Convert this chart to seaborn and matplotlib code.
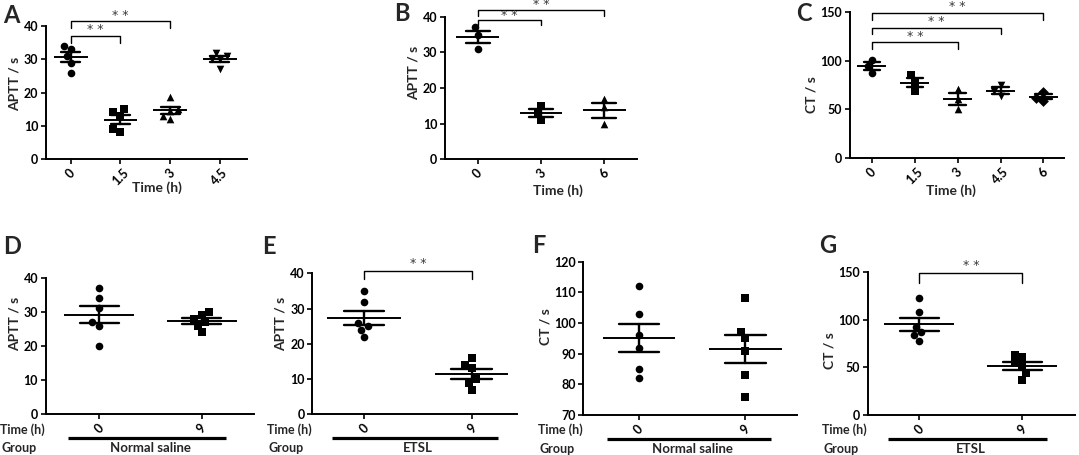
import numpy as np
import pandas as pd
import seaborn as sns
import matplotlib
matplotlib.use("Agg")
import matplotlib.pyplot as plt
from matplotlib import transforms as mtransforms

sns.set_style("white")
plt.rcParams['font.family'] = ['Lato', 'DejaVu Sans']
plt.rcParams['font.weight'] = 'bold'
plt.rcParams['axes.labelweight'] = 'bold'

# ---- data ----
a_times = ["0", "1.5", "3", "4.5"]
a_aptt = [[26, 29, 31, 33, 34], [8, 9, 13, 14, 15], [12, 13, 14.5, 15, 18.5], [27, 30, 30, 31, 32]]

b_times = ["0", "3", "6"]
b_aptt = [[31, 35, 37], [11, 13, 15], [9.8, 14.6, 17]]

c_times = ["0", "1.5", "3", "4.5", "6"]
c_ct = [[87, 94, 101], [69, 78, 85], [50, 61, 71], [64, 69, 75], [59, 62, 68]]

dg_times = ["0", "9"]
d_aptt = [[20, 26, 27, 31, 34, 37], [24, 26, 27, 28, 29, 30]]
e_aptt = [[22, 24, 25, 26, 32, 35], [7, 9, 10, 13, 14, 16]]
f_ct = [[82, 85, 92, 96, 103, 112], [76, 83, 91, 95, 97, 108]]
g_ct = [[78, 84, 87, 93, 108, 123], [37, 44, 51, 55, 61, 63]]

W, H = 1079, 455
fig = plt.figure(figsize=(W / 100, H / 100), dpi=100)

TICK_FS = 9
LABEL_FS = 10
BOTTOM_FS = 9
LETTER_FS = 17


def make_axes(left, right, top, bottom):
    return fig.add_axes([left / W, 1 - bottom / H, (right - left) / W, (bottom - top) / H])


def panel(ax, box, times, values, markers, xlim, ylim, yticks, ylabel, ylab_xy, xlab_xy=None):
    left, right, top, bottom = box
    df = pd.DataFrame({'time': np.repeat(times, [len(v) for v in values]),
                       'value': np.concatenate(values)})
    for t, m in zip(times, markers):
        sns.swarmplot(data=df[df['time'] == t], x='time', y='value', order=times,
                      marker=m, color='black', size=5.5, linewidth=0, ax=ax)
    sns.pointplot(data=df, x='time', y='value', order=times, errorbar='se', capsize=0.38,
                  color='black', linestyle='none', marker='', err_kws={'linewidth': 1.7}, ax=ax)
    means = df.groupby('time')['value'].mean().reindex(times)
    pos = np.arange(len(times))
    ax.hlines(means.values, pos - 0.34, pos + 0.34, color='black', lw=1.4, zorder=4)

    ax.set_xlim(xlim)
    ax.set_ylim(ylim)
    ax.set_yticks(yticks)
    ax.set_xticks(pos)
    ax.set_xticklabels(times, rotation=45, ha='center')
    sns.despine(ax=ax)
    for s in ['left', 'bottom']:
        ax.spines[s].set_linewidth(1.4)
        ax.spines[s].set_color('black')
    ax.tick_params(axis='both', which='major', length=3.5, width=1.2, labelsize=TICK_FS,
                   direction='out', colors='black', left=True, bottom=True, pad=2)

    ax.set_ylabel(ylabel, fontsize=LABEL_FS, va='center')
    ax.yaxis.set_label_coords((ylab_xy[0] - left) / (right - left), (bottom - ylab_xy[1]) / (bottom - top))
    if xlab_xy is not None:
        ax.set_xlabel('Time (h)', fontsize=LABEL_FS, va='center')
        ax.xaxis.set_label_coords((xlab_xy[0] - left) / (right - left), (bottom - xlab_xy[1]) / (bottom - top))
    else:
        ax.set_xlabel('')


def bracket(ax, x1, x2, ytop, ylow, ytext):
    ax.plot([x1, x1, x2, x2], [ylow, ytop, ytop, ylow], color='black', lw=1.0, clip_on=False)
    ax.text((x1 + x2) / 2, ytext, '* *', ha='center', va='center', fontsize=9,
            family='DejaVu Sans', fontweight='normal', color='#3a3a3a', clip_on=False)


def group_label(ax, name):
    base = mtransforms.blended_transform_factory(ax.transData, ax.transAxes)
    ax.plot([-0.3, 1.24], [0, 0], color='black', lw=2.3, clip_on=False, solid_capstyle='butt',
            transform=mtransforms.offset_copy(base, fig=fig, y=-24, units='dots'))
    ax.text(0.5, 0, name, ha='center', va='center', fontsize=BOTTOM_FS + 0.5,
            transform=mtransforms.offset_copy(base, fig=fig, y=-34, units='dots'))
    ax.text(0, 0, 'Time (h)', ha='right', va='center', fontsize=BOTTOM_FS,
            transform=mtransforms.offset_copy(ax.transAxes, fig=fig, x=-1, y=-15, units='dots'))
    ax.text(0, 0, 'Group', ha='right', va='center', fontsize=BOTTOM_FS,
            transform=mtransforms.offset_copy(ax.transAxes, fig=fig, x=-9, y=-34, units='dots'))


# A
box = (46, 247, 26, 159)
ax = make_axes(*box)
panel(ax, box, a_times, a_aptt, ['o', 's', '^', 'v'], (-0.5, 3.55), (0, 40), [0, 10, 20, 30, 40],
      'APTT / s', (15, 83.5), (157, 188))
bracket(ax, 0, 1, 37, 35, 38.8)
bracket(ax, 0, 2, 41.6, 39.4, 43.3)

# B
box = (445, 637, 16.7, 159.3)
ax = make_axes(*box)
panel(ax, box, b_times, b_aptt, ['o', 's', '^'], (-0.52, 2.52), (0, 40), [0, 10, 20, 30, 40],
      'APTT / s', (414, 73), (558, 191))
bracket(ax, 0, 1, 39.0, 37.7, 40.4)
bracket(ax, 0, 2, 41.9, 40.3, 43.4)

# C
box = (850, 1064, 11.7, 158.3)
ax = make_axes(*box)
panel(ax, box, c_times, c_ct, ['o', 's', '^', 'v', 'D'], (-0.51, 4.48), (0, 150), [0, 50, 100, 150],
      'CT / s', (812, 94.5), (951, 191))
bracket(ax, 0, 2, 118.6, 111.5, 125)
bracket(ax, 0, 3, 133.6, 126.8, 140)
bracket(ax, 0, 4, 149, 141.5, 155)

# D
box = (45.7, 254, 277.7, 414.3)
ax = make_axes(*box)
panel(ax, box, dg_times, d_aptt, ['o', 's'], (-0.52, 1.51), (0, 40), [0, 10, 20, 30, 40],
      'APTT / s', (14.5, 324))
group_label(ax, 'Normal saline')

# E
box = (312.3, 517, 273.3, 414.3)
ax = make_axes(*box)
panel(ax, box, dg_times, e_aptt, ['o', 's'], (-0.48, 1.42), (0, 40), [0, 10, 20, 30, 40],
      'APTT / s', (281, 324))
bracket(ax, 0, 1, 40.6, 38.3, 42.8)
group_label(ax, 'ETSL')

# F
box = (583.3, 796.7, 261.7, 415)
ax = make_axes(*box)
panel(ax, box, dg_times, f_ct, ['o', 's'], (-0.52, 1.48), (70, 120), [70, 80, 90, 100, 110, 120],
      'CT / s', (545, 327))
group_label(ax, 'Normal saline')

# G
box = (867.7, 1075, 272.3, 415)
ax = make_axes(*box)
panel(ax, box, dg_times, g_ct, ['o', 's'], (-0.5, 1.51), (0, 150), [0, 50, 100, 150],
      'CT / s', (829, 351))
bracket(ax, 0, 1, 149, 138.5, 157.5)
group_label(ax, 'ETSL')

# panel letters
for letter, x, y in [('A', 3, 4), ('B', 394, 2), ('C', 796, 2),
                     ('D', 3, 235), ('E', 262, 235), ('F', 532, 234), ('G', 819, 234)]:
    fig.text(x / W, 1 - y / H, letter, ha='left', va='top', fontsize=LETTER_FS, fontweight='bold')

fig.savefig('out.png', dpi=100)
